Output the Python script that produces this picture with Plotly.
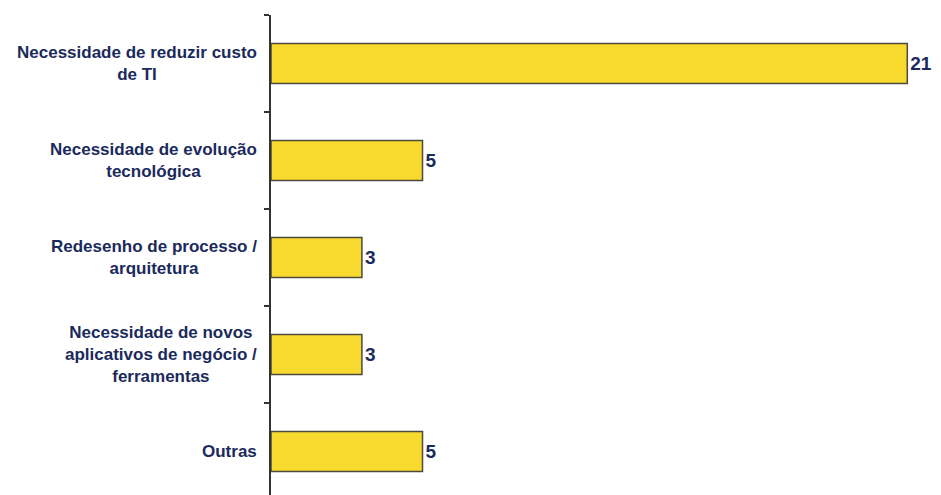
import plotly.graph_objects as go

categories = [
    "Necessidade de reduzir custo<br>de TI",
    "Necessidade de evolução<br>tecnológica",
    "Redesenho de processo /<br>arquitetura",
    "Necessidade de novos<br>aplicativos de negócio /<br>ferramentas",
    "Outras",
]
values = [21, 5, 3, 3, 5]

navy = "#1b2a5c"
fig = go.Figure()
fig.add_trace(go.Bar(
    y=list(range(len(categories))), x=values, orientation="h",
    width=0.41,
    marker=dict(color="#f8d92e", line=dict(color="#4b4a3c", width=1.5)),
    text=["<b>" + str(v) + "</b>" for v in values], textposition="outside",
    textfont=dict(family="Liberation Sans, Arial", size=19, color=navy),
    cliponaxis=False,
))

for i, c in enumerate(categories):
    fig.add_annotation(
        x=0, xref="paper", y=i, yref="y", text="<b>" + c + "</b>",
        xanchor="right", yanchor="middle", align="center", xshift=-12,
        showarrow=False,
        font=dict(family="Liberation Sans, Arial", size=17, color=navy),
    )

n = len(categories)
fig.update_layout(
    width=941, height=495,
    margin=dict(l=271, r=0, t=15, b=0),
    paper_bgcolor="white", plot_bgcolor="white",
    showlegend=False,
    bargap=0.59,
    xaxis=dict(range=[0, 670 / 30.3], visible=False, showgrid=False, zeroline=False),
    yaxis=dict(
        range=[-0.5 + 480 / 97, -0.5],
        tickmode="array",
        tickvals=[i - 0.5 for i in range(n + 1)],
        ticktext=[""] * (n + 1),
        ticks="outside", ticklen=5, tickwidth=1.5, tickcolor="#333333",
        showline=True, linecolor="#333333", linewidth=1.5,
        showgrid=False, zeroline=False,
    ),
)
fig.write_html("out.html")
